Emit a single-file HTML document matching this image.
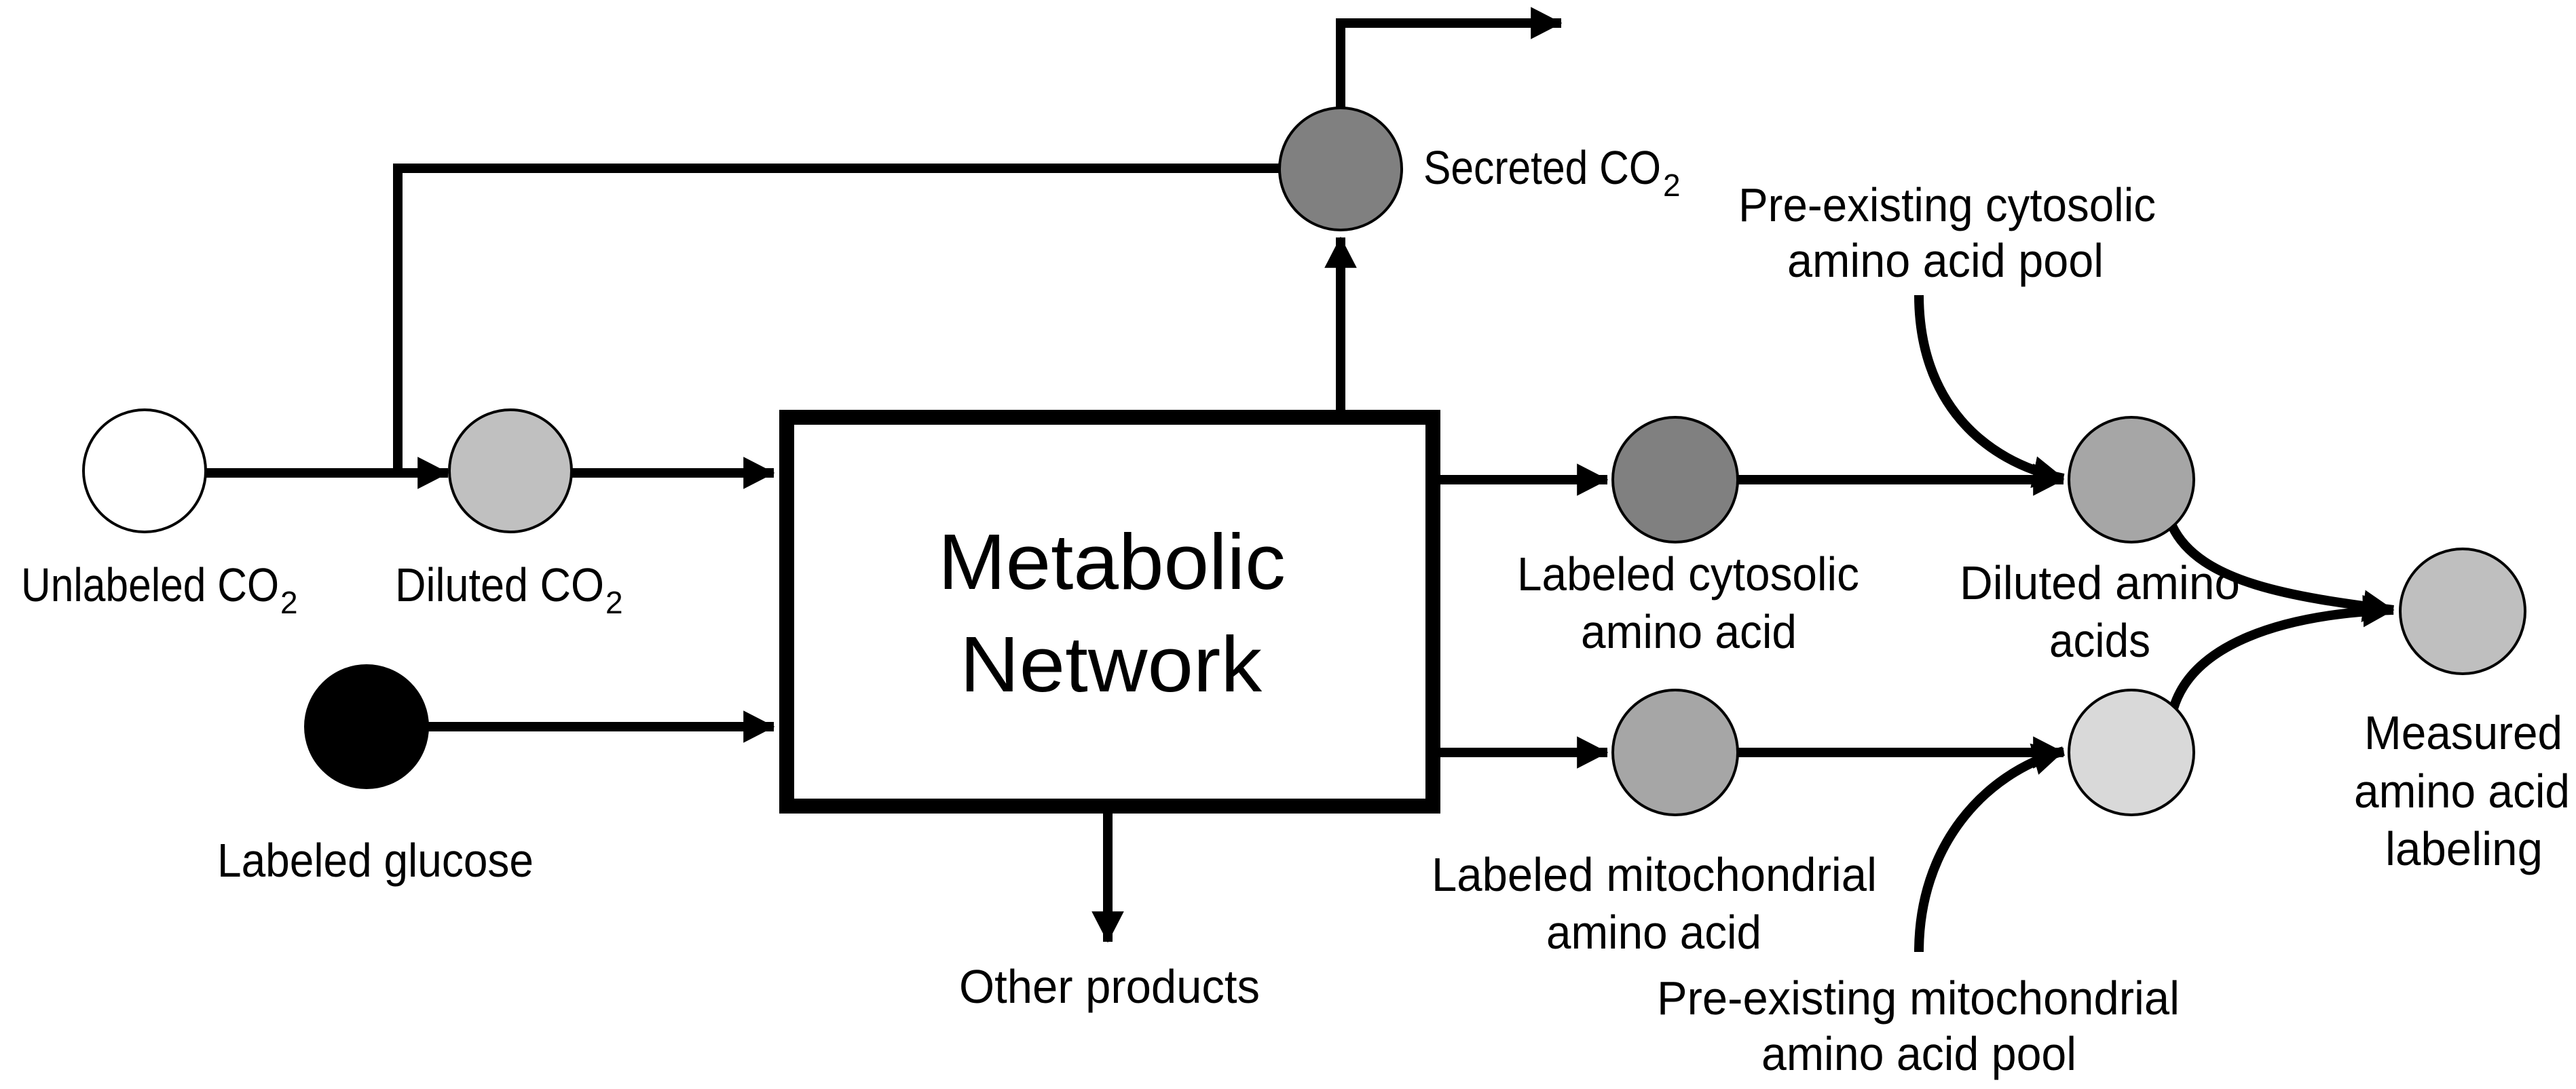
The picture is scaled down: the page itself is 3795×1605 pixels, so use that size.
<!DOCTYPE html>
<html><head><meta charset="utf-8"><style>html,body{margin:0;padding:0;background:#fff}svg{display:block}</style></head>
<body>
<svg width="3795" height="1605" viewBox="0 0 3795 1605" xmlns="http://www.w3.org/2000/svg" font-family="'Liberation Sans', sans-serif" font-size="70" fill="#000">
<defs>
<marker id="a" markerWidth="4" markerHeight="4" refX="3.2" refY="2" orient="auto" markerUnits="strokeWidth"><path d="M0,0.3 L3.3,2 L0,3.7 z" fill="#000"/></marker>
</defs>
<g stroke="#000" stroke-width="14" fill="none">
<line x1="300" y1="697" x2="660" y2="697" marker-end="url(#a)"/>
<polyline points="586,697 586,248 1887,248"/>
<line x1="842" y1="697" x2="1140" y2="697" marker-end="url(#a)"/>
<line x1="630" y1="1071" x2="1140" y2="1071" marker-end="url(#a)"/>
<line x1="1975" y1="604" x2="1975" y2="350" marker-end="url(#a)"/>
<polyline points="1975,160 1975,34 2250,34" />
<line x1="2240" y1="34" x2="2300" y2="34" marker-end="url(#a)"/>
<line x1="1632" y1="1198" x2="1632" y2="1388" marker-end="url(#a)"/>
<line x1="2121" y1="707" x2="2368" y2="707" marker-end="url(#a)"/>
<line x1="2560" y1="707" x2="3040" y2="707" marker-end="url(#a)"/>
<line x1="2121" y1="1109" x2="2368" y2="1109" marker-end="url(#a)"/>
<line x1="2560" y1="1109" x2="3040" y2="1109" marker-end="url(#a)"/>
<path d="M2827,435 C2827,590 2920,680 3040,705" marker-end="url(#a)"/>
<path d="M2827,1403 C2827,1250 2920,1140 3040,1107" marker-end="url(#a)"/>
<path d="M3200,775 C3240,860 3380,880 3526,899" marker-end="url(#a)"/>
<path d="M3202,1044 C3230,950 3360,905 3526,899" marker-end="url(#a)"/>
</g>
<rect x="1159" y="615" width="952" height="573" fill="#fff" stroke="#000" stroke-width="22"/>
<g stroke="#000" stroke-width="4">
<circle cx="213" cy="694" r="90" fill="#fff"/>
<circle cx="752" cy="694" r="90" fill="#c0c0c0"/>
<circle cx="540" cy="1071" r="90" fill="#000"/>
<circle cx="1975" cy="249" r="90" fill="#808080"/>
<circle cx="2468" cy="707" r="92" fill="#808080"/>
<circle cx="3140" cy="707" r="92" fill="#a6a6a6"/>
<circle cx="2468" cy="1109" r="92" fill="#a6a6a6"/>
<circle cx="3140" cy="1109" r="92" fill="#d9d9d9"/>
<circle cx="3628" cy="901" r="92" fill="#bfbfbf"/>
</g>
<g>
<text x="31" y="886" textLength="380" lengthAdjust="spacingAndGlyphs">Unlabeled CO</text><text x="413" y="904" font-size="46">2</text>
<text x="582" y="886" textLength="308" lengthAdjust="spacingAndGlyphs">Diluted CO</text><text x="892" y="904" font-size="46">2</text>
<text x="320" y="1292" textLength="466" lengthAdjust="spacingAndGlyphs">Labeled glucose</text>
<text x="1382" y="868" font-size="116" textLength="512" lengthAdjust="spacingAndGlyphs">Metabolic</text>
<text x="1414" y="1019" font-size="116" textLength="445" lengthAdjust="spacingAndGlyphs">Network</text>
<text x="1413" y="1478" textLength="443" lengthAdjust="spacingAndGlyphs">Other products</text>
<text x="2097" y="271" textLength="350" lengthAdjust="spacingAndGlyphs">Secreted CO</text><text x="2450" y="289" font-size="46">2</text>
<text x="2561" y="326" textLength="615" lengthAdjust="spacingAndGlyphs">Pre-existing cytosolic</text>
<text x="2633" y="408" textLength="466" lengthAdjust="spacingAndGlyphs">amino acid pool</text>
<text x="2235" y="870" textLength="504" lengthAdjust="spacingAndGlyphs">Labeled cytosolic</text>
<text x="2329" y="955" textLength="318" lengthAdjust="spacingAndGlyphs">amino acid</text>
<text x="2887" y="883" textLength="413" lengthAdjust="spacingAndGlyphs">Diluted amino</text>
<text x="3019" y="968" textLength="149" lengthAdjust="spacingAndGlyphs">acids</text>
<text x="3483" y="1104" textLength="292" lengthAdjust="spacingAndGlyphs">Measured</text>
<text x="3468" y="1190" textLength="318" lengthAdjust="spacingAndGlyphs">amino acid</text>
<text x="3514" y="1275" textLength="232" lengthAdjust="spacingAndGlyphs">labeling</text>
<text x="2109" y="1313" textLength="656" lengthAdjust="spacingAndGlyphs">Labeled mitochondrial</text>
<text x="2278" y="1398" textLength="317" lengthAdjust="spacingAndGlyphs">amino acid</text>
<text x="2441" y="1495" textLength="770" lengthAdjust="spacingAndGlyphs">Pre-existing mitochondrial</text>
<text x="2595" y="1577" textLength="464" lengthAdjust="spacingAndGlyphs">amino acid pool</text>
</g>
</svg>
</body></html>
